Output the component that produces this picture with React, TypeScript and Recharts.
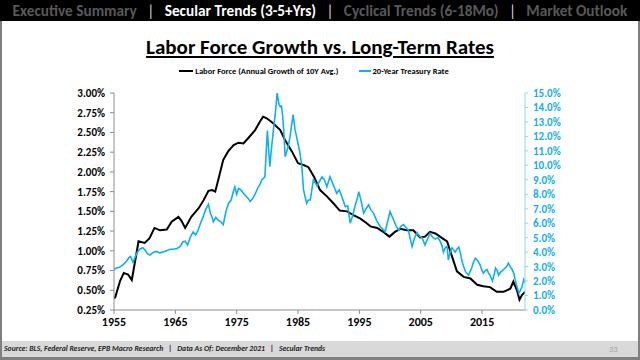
import React from "react";
import { LineChart, Line, XAxis, YAxis } from "recharts";

// ---- Data ----
const laborYears = [
  1955.0, 1955.2, 1956.0, 1956.6, 1957.3, 1957.9, 1958.4, 1959.0, 1960.0, 1960.8, 1961.6, 1962.5,
  1963.6, 1964.4, 1965.5, 1966.0, 1966.6, 1967.6, 1968.8, 1969.6, 1970.4, 1971.0, 1971.5, 1972.0,
  1972.8, 1973.6, 1974.5, 1975.3, 1976.1, 1976.9, 1978.0, 1978.8, 1979.3, 1979.9, 1980.9, 1982.1,
  1982.9, 1984.0, 1985.0, 1985.8, 1986.7, 1987.6, 1988.6, 1989.7, 1990.8, 1991.8, 1993.0, 1994.1,
  1995.1, 1996.2, 1996.8, 1997.9, 1998.9, 1999.9, 2000.8, 2001.7, 2002.7, 2003.8, 2004.9, 2005.7,
  2006.5, 2007.4, 2008.5, 2009.3, 2010.1, 2010.9, 2012.0, 2013.1, 2014.2, 2015.2, 2016.3, 2017.4,
  2018.5, 2019.6, 2020.1, 2020.7, 2021.1, 2021.5, 2022.0,
];
const laborValues = [
  0.40, 0.41, 0.62, 0.72, 0.70, 0.63, 0.85, 1.12, 1.10, 1.16, 1.29, 1.26,
  1.27, 1.37, 1.43, 1.38, 1.29, 1.43, 1.54, 1.64, 1.76, 1.77, 1.75, 1.90,
  2.15, 2.26, 2.34, 2.37, 2.36, 2.43, 2.53, 2.64, 2.70, 2.68, 2.62, 2.53,
  2.40, 2.26, 2.11, 2.09, 2.06, 1.94, 1.77, 1.69, 1.60, 1.51, 1.50, 1.45,
  1.41, 1.35, 1.31, 1.29, 1.24, 1.18, 1.24, 1.28, 1.26, 1.26, 1.17, 1.18,
  1.24, 1.22, 1.16, 1.12, 0.93, 0.74, 0.67, 0.65, 0.57, 0.55, 0.54, 0.48,
  0.48, 0.52, 0.61, 0.50, 0.38, 0.44, 0.48,
];

const treasuryYears = [
  1955.0, 1955.4, 1955.9, 1956.4, 1956.9, 1957.4, 1957.7, 1958.1, 1958.4, 1958.8, 1959.2, 1959.7,
  1960.05, 1960.45, 1960.85, 1961.15, 1961.45, 1961.95, 1962.45, 1962.95, 1963.55, 1964.15, 1964.65, 1965.3,
  1965.8, 1966.2, 1966.6, 1967.0, 1967.4, 1967.9, 1968.3, 1968.7, 1969.1, 1969.5, 1969.9, 1970.4,
  1970.7, 1971.0, 1971.2, 1971.6, 1972.0, 1972.4, 1972.8, 1973.1, 1973.3, 1973.7, 1974.1, 1974.4,
  1974.7, 1975.0, 1975.3, 1975.7, 1976.2, 1976.7, 1977.2, 1977.6, 1978.0, 1978.4, 1978.8, 1979.1,
  1979.6, 1980.0, 1980.4, 1980.7, 1981.0, 1981.3, 1981.6, 1981.9, 1982.1, 1982.3, 1982.5, 1982.7,
  1982.9, 1983.4, 1983.7, 1984.2, 1984.5, 1984.8, 1985.3, 1985.6, 1985.9, 1986.4, 1986.7, 1987.0,
  1987.5, 1988.1, 1988.5, 1988.9, 1989.3, 1989.7, 1990.2, 1990.7, 1991.3, 1991.7, 1992.1, 1992.7,
  1993.1, 1993.5, 1993.9, 1994.3, 1994.6, 1994.9, 1995.3, 1995.7, 1996.1, 1996.5, 1996.9, 1997.3,
  1997.8, 1998.4, 1998.8, 1999.2, 1999.6, 2000.0, 2000.3, 2000.6, 2001.0, 2001.4, 2001.8, 2002.2,
  2002.6, 2003.0, 2003.3, 2003.6, 2004.0, 2004.4, 2004.8, 2005.2, 2005.7, 2006.1, 2006.5, 2007.0,
  2007.4, 2007.8, 2008.2, 2008.5, 2008.7, 2009.0, 2009.3, 2009.5, 2009.8, 2010.1, 2010.6, 2010.9,
  2011.2, 2011.5, 2011.7, 2012.0, 2012.3, 2012.8, 2013.3, 2013.6, 2013.9, 2014.3, 2014.7, 2015.0,
  2015.2, 2015.5, 2015.8, 2016.0, 2016.3, 2016.7, 2017.0, 2017.2, 2017.5, 2017.7, 2018.0, 2018.5,
  2019.0, 2019.3, 2019.6, 2019.9, 2020.2, 2020.4, 2020.7, 2021.0, 2021.2, 2021.5, 2021.8, 2022.0,
];
const treasuryValues = [
  2.80, 2.90, 2.95, 3.10, 3.30, 3.60, 3.70, 3.30, 3.60, 4.00, 4.20, 4.30,
  4.15, 3.90, 3.80, 3.90, 4.00, 4.05, 3.95, 4.00, 4.10, 4.20, 4.20, 4.25,
  4.40, 4.70, 4.75, 4.50, 5.00, 5.40, 5.20, 5.50, 6.00, 6.40, 6.90, 7.30,
  6.70, 6.40, 6.10, 6.40, 6.20, 6.10, 5.90, 6.50, 6.90, 7.40, 7.60, 8.10,
  8.50, 8.00, 8.40, 8.30, 8.00, 7.80, 7.50, 7.70, 8.00, 8.40, 8.70, 8.99,
  9.20, 12.40, 9.90, 11.30, 12.50, 13.60, 15.00, 14.20, 14.05, 14.10, 13.40, 12.20,
  10.60, 11.30, 12.00, 13.50, 12.50, 11.90, 10.90, 10.00, 8.30, 7.38, 7.60, 7.60,
  8.99, 8.60, 8.90, 9.20, 9.00, 8.52, 9.20, 8.70, 8.07, 8.30, 7.90, 7.14,
  7.20, 6.00, 6.50, 7.20, 7.60, 8.18, 7.50, 6.69, 7.00, 7.26, 6.90, 6.70,
  6.20, 5.76, 5.60, 5.40, 6.10, 6.80, 6.50, 6.20, 5.80, 5.53, 5.80, 5.90,
  5.70, 5.50, 4.90, 4.38, 5.00, 5.35, 5.10, 5.00, 4.50, 4.90, 5.30, 5.00,
  4.90, 5.00, 4.72, 4.40, 4.00, 4.30, 4.40, 3.46, 4.00, 4.30, 4.00, 4.20,
  4.35, 3.90, 3.40, 3.00, 2.65, 2.40, 2.90, 3.30, 3.58, 3.40, 3.10, 2.70,
  2.55, 2.70, 2.80, 2.60, 2.40, 2.00, 2.50, 2.90, 2.70, 2.40, 2.60, 2.80,
  3.00, 3.23, 3.00, 2.80, 2.50, 2.08, 1.60, 1.16, 1.30, 1.60, 2.10, 1.90,
];

const xTicks = [1955, 1965, 1975, 1985, 1995, 2005, 2015];
const leftTicks = [0.25, 0.5, 0.75, 1.0, 1.25, 1.5, 1.75, 2.0, 2.25, 2.5, 2.75, 3.0];
const rightTicks = [0, 1, 2, 3, 4, 5, 6, 7, 8, 9, 10, 11, 12, 13, 14, 15];

const seriesNames = ["Labor Force (Annual Growth of 10Y Avg.)", "20-Year Treasury Rate"];
const navTabs = ["Executive Summary", "Secular Trends (3-5+Yrs)", "Cyclical Trends (6-18Mo)", "Market Outlook"];
const activeTab = 1;
const titleText = "Labor Force Growth vs. Long-Term Rates";
const footerText = "Source: BLS, Federal Reserve, EPB Macro Research   |   Data As Of: December 2021   |   Secular Trends";
const pageNumber = "33";

const laborData = laborYears.map((year, i) => ({ year, labor: laborValues[i] }));
const treasuryData = treasuryYears.map((year, i) => ({ year, treasury: treasuryValues[i] }));

const FONT = "Carlito, Calibri, Lato, 'Open Sans', sans-serif";
const BLUE = "#0fb0ef";

export default function App() {
  return (
    <div
      style={{
        position: "absolute",
        left: 0,
        top: 0,
        width: 640,
        height: 360,
        background: "#ffffff",
        overflow: "hidden",
        fontFamily: FONT,
      }}
    >
      {/* header bar */}
      <div
        style={{
          position: "absolute",
          left: 0,
          top: 0,
          width: 640,
          height: 21,
          background: "#000",
          display: "flex",
          alignItems: "center",
          justifyContent: "center",
          fontWeight: 700,
          fontSize: 15.3,
          whiteSpace: "pre",
          color: "#595959",
        }}
      >
        {navTabs.map((t, i) => (
          <React.Fragment key={t}>
            {i > 0 && <span style={{ color: "#d9d9d9", fontWeight: 400 }}>{"   |   "}</span>}
            <span style={{ color: i === activeTab ? "#ffffff" : "#595959" }}>{t}</span>
          </React.Fragment>
        ))}
      </div>

      {/* borders */}
      <div style={{ position: "absolute", left: 0, top: 21, width: 2, height: 339, background: "#7f7f7f" }} />
      <div style={{ position: "absolute", left: 638, top: 21, width: 2, height: 339, background: "#7f7f7f" }} />

      {/* title */}
      <div
        style={{
          position: "absolute",
          left: 0,
          top: 34,
          width: 640,
          textAlign: "center",
          fontWeight: 700,
          fontSize: 21,
          textDecoration: "underline",
          textDecorationThickness: 1.5,
          textUnderlineOffset: 2,
          color: "#000",
          lineHeight: "26px",
        }}
      >
        {titleText}
      </div>

      {/* legend */}
      <div
        style={{
          position: "absolute",
          left: -6,
          top: 65,
          width: 640,
          display: "flex",
          justifyContent: "center",
          alignItems: "center",
          fontSize: 8.5,
          fontWeight: 700,
          color: "#000",
          lineHeight: "12px",
        }}
      >
        <span style={{ display: "inline-block", width: 14, height: 2, background: "#000", marginRight: 2 }} />
        <span>{seriesNames[0]}</span>
        <span style={{ display: "inline-block", width: 12, height: 2, background: BLUE, marginLeft: 20, marginRight: 2 }} />
        <span>{seriesNames[1]}</span>
      </div>

      {/* chart */}
      <div style={{ position: "absolute", left: 0, top: 0 }}>
        <LineChart width={640} height={340} margin={{ top: 93, right: 55, bottom: 10, left: 54 }}>
          <XAxis
            type="number"
            dataKey="year"
            domain={[1955, 2022]}
            ticks={xTicks}
            interval={0}
            allowDataOverflow
            height={20}
            tickSize={4}
            tickMargin={3}
            stroke="#8c8c8c"
            tick={{ fill: "#000", fontSize: 12, fontWeight: 700, fontFamily: FONT }}
          />
          <YAxis
            yAxisId="left"
            orientation="left"
            domain={[0.25, 3.0]}
            ticks={leftTicks}
            interval={0}
            allowDataOverflow
            width={60}
            tickSize={4}
            tickMargin={5}
            stroke="#8c8c8c"
            tickFormatter={(v: number) => v.toFixed(2) + "%"}
            tick={{ fill: "#000", fontSize: 11, fontWeight: 700, fontFamily: FONT }}
          />
          <YAxis
            yAxisId="right"
            orientation="right"
            domain={[0, 15]}
            ticks={rightTicks}
            interval={0}
            allowDataOverflow
            width={60}
            tickSize={3}
            tickMargin={5}
            stroke="#8fd6f3"
            tickFormatter={(v: number) => v.toFixed(1) + "%"}
            tick={{ fill: BLUE, fontSize: 11, fontWeight: 700, fontFamily: FONT }}
          />
          <Line
            yAxisId="left"
            data={laborData}
            dataKey="labor"
            type="linear"
            stroke="#000"
            strokeWidth={2}
            dot={false}
            isAnimationActive={false}
          />
          <Line
            yAxisId="right"
            data={treasuryData}
            dataKey="treasury"
            type="linear"
            stroke={BLUE}
            strokeWidth={1.6}
            dot={false}
            isAnimationActive={false}
          />
        </LineChart>
      </div>

      {/* footer */}
      <div
        style={{
          position: "absolute",
          left: 2,
          top: 341,
          width: 636,
          height: 16,
          background: "#d9d9d9",
        }}
      />
      <div style={{ position: "absolute", left: 0, top: 357, width: 640, height: 3, background: "#7f7f7f" }} />
      <div
        style={{
          position: "absolute",
          left: 4,
          top: 343,
          fontSize: 7.7,
          fontStyle: "italic",
          fontWeight: 700,
          color: "#262626",
          whiteSpace: "pre",
          lineHeight: "12px",
        }}
      >
        {footerText}
      </div>
      <div
        style={{
          position: "absolute",
          left: 609,
          top: 343,
          fontSize: 8.5,
          color: "#a6a6a6",
          lineHeight: "12px",
        }}
      >
        {pageNumber}
      </div>
    </div>
  );
}
